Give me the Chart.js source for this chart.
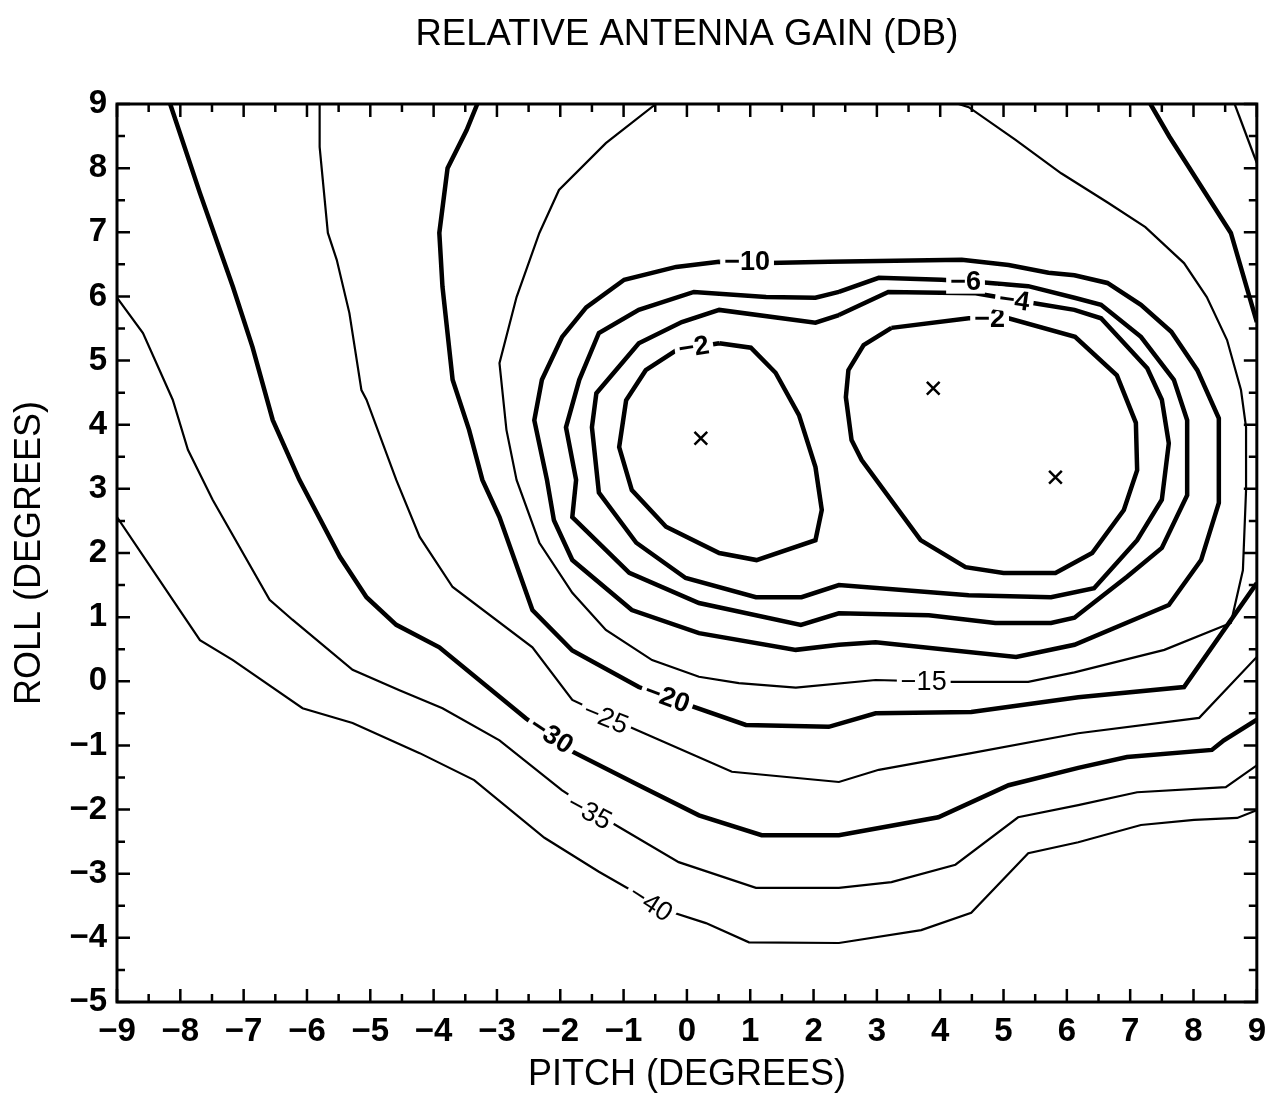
<!DOCTYPE html>
<html lang="en">
<head>
  <meta charset="UTF-8" />
  <title>Relative Antenna Gain</title>
  <script src="https://cdn.jsdelivr.net/npm/chart.js"></script>
  <style>
    body { margin: 0; background: #fff; }
    canvas { display: block; }
  </style>
</head>
<body>
  <canvas id="gainChart" width="1276" height="1098"></canvas>

  <script>
    // contour lines, [pitch, roll] in degrees
    const gain2a = [[0.51,5.27],[1.01,5.20],[1.40,4.81],[1.77,4.15],[2.03,3.34],[2.13,2.67],[2.03,2.20],
      [1.10,1.89],[0.51,2.00],[-0.33,2.41],[-0.87,2.98],[-1.07,3.65],[-0.96,4.38],[-0.65,4.85],[-0.17,5.16],[0.51,5.27]];
    const gain2b = [[3.23,5.51],[4.45,5.66],[5.08,5.66],[6.13,5.37],[6.79,4.77],[7.09,4.03],[7.11,3.29],[6.90,2.67],
      [6.40,2.00],[5.82,1.69],[5.00,1.69],[4.40,1.78],[3.69,2.20],[2.76,3.45],[2.60,3.76],[2.51,4.43],[2.55,4.85],[2.79,5.24],[3.23,5.51]];
    const gain4 = [[2.40,5.71],[3.18,6.07],[4.56,6.05],[5.39,5.91],[6.12,5.79],[6.54,5.66],[7.27,4.88],[7.50,4.39],
      [7.61,3.71],[7.50,2.83],[7.11,2.20],[6.43,1.45],[5.75,1.31],[4.45,1.34],[2.40,1.50],[1.81,1.31],[1.09,1.31],
      [-0.02,1.61],[-0.80,2.16],[-1.39,2.94],[-1.50,3.96],[-1.43,4.49],[-0.76,5.27],[-0.08,5.60],[0.51,5.79],[2.03,5.59],[2.40,5.71]];
    const gain6 = [[2.40,6.07],[3.03,6.29],[4.02,6.26],[4.65,6.22],[5.39,6.16],[6.12,5.98],[6.54,5.87],[7.17,5.37],
      [7.69,4.70],[7.90,4.07],[7.90,2.90],[7.50,2.08],[6.95,1.63],[6.12,0.99],[5.75,0.91],[4.87,0.91],[3.82,1.03],
      [2.40,1.06],[1.80,0.88],[0.19,1.22],[-0.91,1.69],[-1.81,2.56],[-1.75,3.14],[-1.91,3.96],[-1.70,4.70],
      [-1.39,5.43],[-0.76,5.79],[0.11,6.07],[1.25,5.99],[2.03,5.98],[2.40,6.07]];
    const gain10 = [[0.51,6.54],[-0.17,6.46],[-0.99,6.26],[-1.59,5.83],[-1.97,5.37],[-2.29,4.70],[-2.41,4.07],
      [-2.21,3.14],[-2.10,2.51],[-1.81,1.89],[-0.87,1.11],[0.19,0.75],[1.72,0.49],[2.40,0.57],[2.98,0.61],
      [5.20,0.38],[6.12,0.57],[7.61,1.19],[8.12,1.89],[8.40,2.78],[8.40,4.10],[8.06,4.85],[7.65,5.45],[7.17,5.87],
      [6.64,6.21],[6.12,6.33],[5.71,6.37],[5.08,6.49],[4.34,6.57],[2.24,6.54],[1.29,6.52],[0.51,6.54]];
    const gain15 = [[-0.49,9.00],[-1.28,8.39],[-2.02,7.66],[-2.33,6.99],[-2.69,5.99],[-2.96,4.96],[-2.85,3.92],
      [-2.69,3.14],[-2.33,2.16],[-1.81,1.38],[-1.28,0.80],[-0.55,0.33],[0.19,0.07],[0.82,-0.03],[1.72,-0.10],
      [2.98,0.02],[4.08,-0.01],[5.39,-0.01],[6.12,0.14],[7.54,0.49],[8.59,0.91],[8.78,1.73],[8.83,2.98],[8.83,3.96],
      [8.75,4.54],[8.53,5.32],[8.21,5.99],[7.85,6.52],[7.24,7.08],[6.65,7.46],[5.91,7.92],[5.19,8.44],[4.45,8.95],[4.29,9.00]];
    const gain20a = [[-3.31,9.00],[-3.48,8.59],[-3.78,8.00],[-3.91,6.99],[-3.86,6.15],[-3.70,4.70],[-3.44,3.92],
      [-3.23,3.14],[-2.96,2.56],[-2.44,1.11],[-1.81,0.48],[-0.76,-0.09],[0.03,-0.37],[0.93,-0.68],[2.24,-0.71],
      [2.98,-0.50],[4.49,-0.48],[6.18,-0.25],[7.85,-0.09],[9.00,1.53]];
    const gain20b = [[7.32,9.00],[7.62,8.49],[8.59,6.99],[9.00,5.60]];
    const gain25a = [[-5.80,9.00],[-5.80,8.33],[-5.67,6.99],[-5.53,6.57],[-5.33,5.74],[-5.14,4.54],[-5.06,4.39],
      [-4.59,3.14],[-4.22,2.25],[-3.70,1.47],[-2.44,0.53],[-1.81,-0.29],[-0.91,-0.71],[0.71,-1.41],[2.40,-1.57],
      [3.03,-1.38],[4.49,-1.12],[6.18,-0.81],[8.09,-0.57],[9.00,0.38]];
    const gain25b = [[8.65,9.00],[9.00,8.08]];
    const gain30 = [[-8.16,9.00],[-7.69,7.61],[-7.17,6.15],[-6.86,5.21],[-6.54,4.07],[-6.12,3.14],[-5.48,1.94],
      [-5.06,1.31],[-4.59,0.88],[-3.91,0.53],[-2.54,-0.58],[-1.86,-1.07],[-0.76,-1.62],[0.19,-2.09],[1.18,-2.40],
      [2.40,-2.40],[3.97,-2.12],[5.08,-1.62],[6.18,-1.35],[6.95,-1.18],[8.29,-1.07],[8.48,-0.92],[9.00,-0.60]];
    const gain35 = [[-9.00,5.98],[-8.59,5.43],[-8.12,4.39],[-7.88,3.61],[-7.49,2.83],[-6.59,1.27],[-6.23,0.96],
      [-5.28,0.18],[-4.54,-0.14],[-3.86,-0.42],[-2.96,-0.92],[-1.97,-1.70],[-1.18,-2.21],[-0.13,-2.82],[1.09,-3.22],
      [2.40,-3.22],[3.23,-3.13],[4.24,-2.86],[5.23,-2.12],[6.18,-1.93],[7.11,-1.73],[8.51,-1.65],[9.00,-1.31]];
    const gain40 = [[-9.00,2.56],[-8.01,1.11],[-7.69,0.64],[-7.17,0.33],[-6.07,-0.42],[-5.28,-0.65],[-4.22,-1.12],
      [-3.36,-1.54],[-2.25,-2.44],[-1.39,-2.97],[-0.33,-3.57],[0.30,-3.77],[0.98,-4.07],[2.40,-4.08],[3.70,-3.88],
      [4.49,-3.61],[5.39,-2.68],[6.18,-2.51],[7.17,-2.24],[8.01,-2.16],[8.69,-2.13],[9.00,-2.01]];

    // contour labels
    const labelText  = ['−2', '−2', '−4', '−6', '−10', '−15', '−20', '−25', '−30', '−35', '−40'];
    const labelPitch = [0.11, 4.78, 5.17, 4.40, 0.95, 3.74, -0.31, -1.28, -2.14, -1.54, -0.57];
    const labelRoll  = [5.21, 5.66, 5.94, 6.23, 6.54, 0.00, -0.25, -0.57, -0.84, -2.04, -3.46];
    const labelAngle = [-9, 0, 8, 0, 0, 0, 20, 22, 33, 28, 33];

    // gain maxima
    const peakPitch = [0.22, 3.89, 5.82];
    const peakRoll  = [3.79, 4.57, 3.18];

    const FONT = "'Liberation Sans', Arial, sans-serif";
    const thick = [gain2a, gain2b, gain4, gain6, gain10, gain20a, gain20b, gain30];
    const thin  = [gain15, gain25a, gain25b, gain35, gain40];
    const boldLabel = ['−2', '−4', '−6', '−10', '−20', '−30'];

    const toXY = pts => pts.map(p => ({ x: p[0], y: p[1] }));
    const datasets = [];
    thick.forEach(c => datasets.push({ data: toXY(c), showLine: true, borderColor: '#000', borderWidth: 4.5, pointRadius: 0, tension: 0 }));
    thin.forEach(c => datasets.push({ data: toXY(c), showLine: true, borderColor: '#000', borderWidth: 2.2, pointRadius: 0, tension: 0 }));
    datasets.push({
      data: peakPitch.map((p, i) => ({ x: p, y: peakRoll[i] })),
      showLine: false, pointStyle: 'crossRot', pointRadius: 9, borderColor: '#000', borderWidth: 2.5
    });

    // frame + inward ticks on all four sides
    const framePlugin = {
      id: 'frame',
      afterDraw(chart) {
        const { ctx, chartArea: a, scales: { x, y } } = chart;
        ctx.save();
        ctx.strokeStyle = '#000';
        ctx.lineWidth = 3;
        ctx.strokeRect(a.left, a.top, a.right - a.left, a.bottom - a.top);
        ctx.lineWidth = 2.5;
        ctx.beginPath();
        for (let v = x.min; v <= x.max; v += 0.5) {
          const px = x.getPixelForValue(v);
          const len = Number.isInteger(v) ? 13 : 8;
          ctx.moveTo(px, a.bottom); ctx.lineTo(px, a.bottom - len);
          ctx.moveTo(px, a.top); ctx.lineTo(px, a.top + len);
        }
        for (let v = y.min; v <= y.max; v += 0.5) {
          const py = y.getPixelForValue(v);
          const len = Number.isInteger(v) ? 13 : 8;
          ctx.moveTo(a.left, py); ctx.lineTo(a.left + len, py);
          ctx.moveTo(a.right, py); ctx.lineTo(a.right - len, py);
        }
        ctx.stroke();
        ctx.restore();
      }
    };

    // contour level labels sitting in a gap of the line
    const labelPlugin = {
      id: 'contourLabels',
      afterDatasetsDraw(chart) {
        const { ctx, scales: { x, y } } = chart;
        ctx.save();
        labelText.forEach((t, i) => {
          const bold = boldLabel.includes(t);
          ctx.font = (bold ? 'bold ' : '') + '27px ' + FONT;
          const w = ctx.measureText(t).width;
          ctx.save();
          ctx.translate(x.getPixelForValue(labelPitch[i]), y.getPixelForValue(labelRoll[i]));
          ctx.rotate(labelAngle[i] * Math.PI / 180);
          ctx.fillStyle = '#fff';
          ctx.fillRect(-w / 2 - 4, -12, w + 8, 24);
          ctx.fillStyle = '#000';
          ctx.textAlign = 'center';
          ctx.textBaseline = 'middle';
          ctx.fillText(t, 0, 1);
          ctx.restore();
        });
        ctx.restore();
      }
    };

    const fmt = v => (v < 0 ? '−' + Math.abs(v) : String(v));

    new Chart(document.getElementById('gainChart').getContext('2d'), {
      type: 'scatter',
      data: { datasets },
      options: {
        responsive: false,
        animation: false,
        events: [],
        layout: { padding: { left: 8, right: 17, top: 0, bottom: 1 } },
        plugins: {
          legend: { display: false },
          tooltip: { enabled: false },
          title: {
            display: true,
            fullSize: false,
            text: 'RELATIVE ANTENNA GAIN (DB)',
            color: '#000',
            font: { family: FONT, size: 36.5, weight: 'normal' },
            padding: { top: 13, bottom: 47.2 }
          }
        },
        scales: {
          x: {
            type: 'linear', min: -9, max: 9,
            grid: { display: false, drawTicks: false },
            border: { display: false },
            ticks: { stepSize: 1, color: '#000', padding: 10, font: { family: FONT, size: 33, weight: 'bold' }, callback: fmt },
            title: { display: true, text: 'PITCH (DEGREES)', color: '#000', padding: 0, font: { family: FONT, size: 36, weight: 'normal' } },
            afterFit: s => { s.height = 95; }
          },
          y: {
            type: 'linear', min: -5, max: 9,
            grid: { display: false, drawTicks: false },
            border: { display: false },
            ticks: { stepSize: 1, color: '#000', padding: 10, font: { family: FONT, size: 33, weight: 'bold' }, callback: fmt },
            title: { display: true, text: 'ROLL (DEGREES)', color: '#000', padding: 0, font: { family: FONT, size: 36, weight: 'normal' } },
            afterFit: s => { s.width = 109; }
          }
        }
      },
      plugins: [framePlugin, labelPlugin]
    });
  </script>
</body>
</html>
